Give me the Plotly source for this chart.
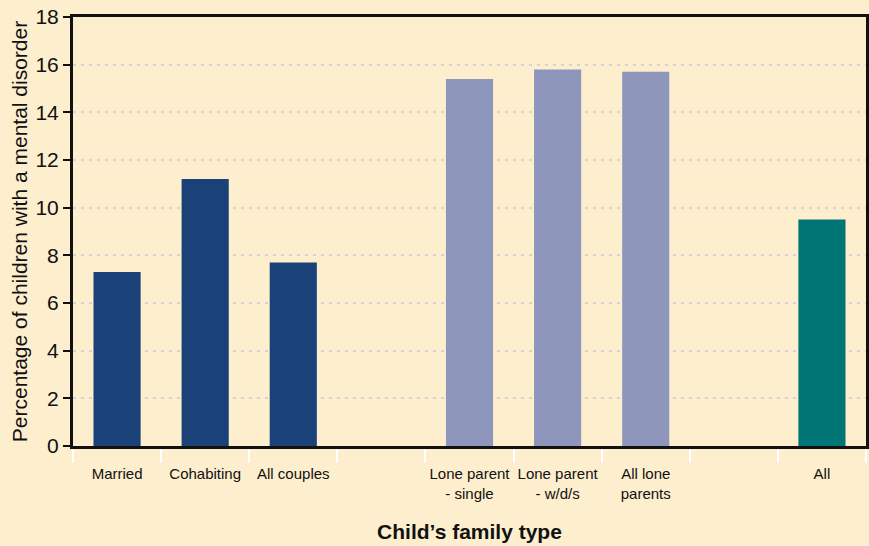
import plotly.graph_objects as go

categories = ["Married", "Cohabiting", "All couples", " ",
              "Lone parent<br>- single", "Lone parent<br>- w/d/s", "All lone<br>parents", "  ", "All"]
values = [7.3, 11.2, 7.7, None, 15.4, 15.8, 15.7, None, 9.5]
groups = ["couple", "couple", "couple", None, "lone", "lone", "lone", None, "all"]
group_colors = {"couple": "#1a4178", "lone": "#8e96bb", "all": "#007575", None: "rgba(0,0,0,0)"}

colors = [group_colors[g] for g in groups]

fig = go.Figure(go.Bar(
    x=categories, y=values, marker=dict(color=colors, line=dict(width=0)),
    width=0.535, hoverinfo="x+y",
))

bg = "#fdeecd"
fig.update_layout(
    width=869, height=546,
    paper_bgcolor=bg, plot_bgcolor=bg,
    margin=dict(l=73, r=3, t=17, b=100),
    font=dict(family="Arial, Liberation Sans, sans-serif", color="#111"),
    showlegend=False,
    bargap=0.465,
)
fig.update_xaxes(
    type="category", tickson="boundaries", tickangle=0,
    showline=True, linewidth=3, linecolor="#111", mirror=True,
    ticks="outside", ticklen=14, tickwidth=2, tickcolor="white",
    tickfont=dict(size=15), ticklabelstandoff=12,
    title=dict(text="<b>Child’s family type</b>", font=dict(size=21), standoff=24),
    showgrid=False, automargin=False,
)
fig.update_yaxes(
    range=[0, 18], tickvals=[0, 2, 4, 6, 8, 10, 12, 14, 16, 18],
    showline=True, linewidth=3, linecolor="#111", mirror=True,
    ticks="outside", ticklen=7, tickwidth=2, tickcolor="#111",
    tickfont=dict(size=21),
    title=dict(text="Percentage of children with a mental disorder", font=dict(size=21), standoff=3),
    showgrid=True, gridcolor="#d4d4d4", gridwidth=1.5, griddash="3px,5px",
    zeroline=False, automargin=False,
)
fig.write_html("out.html", config={"displayModeBar": False},
               post_script="document.body.style.margin='0';")
